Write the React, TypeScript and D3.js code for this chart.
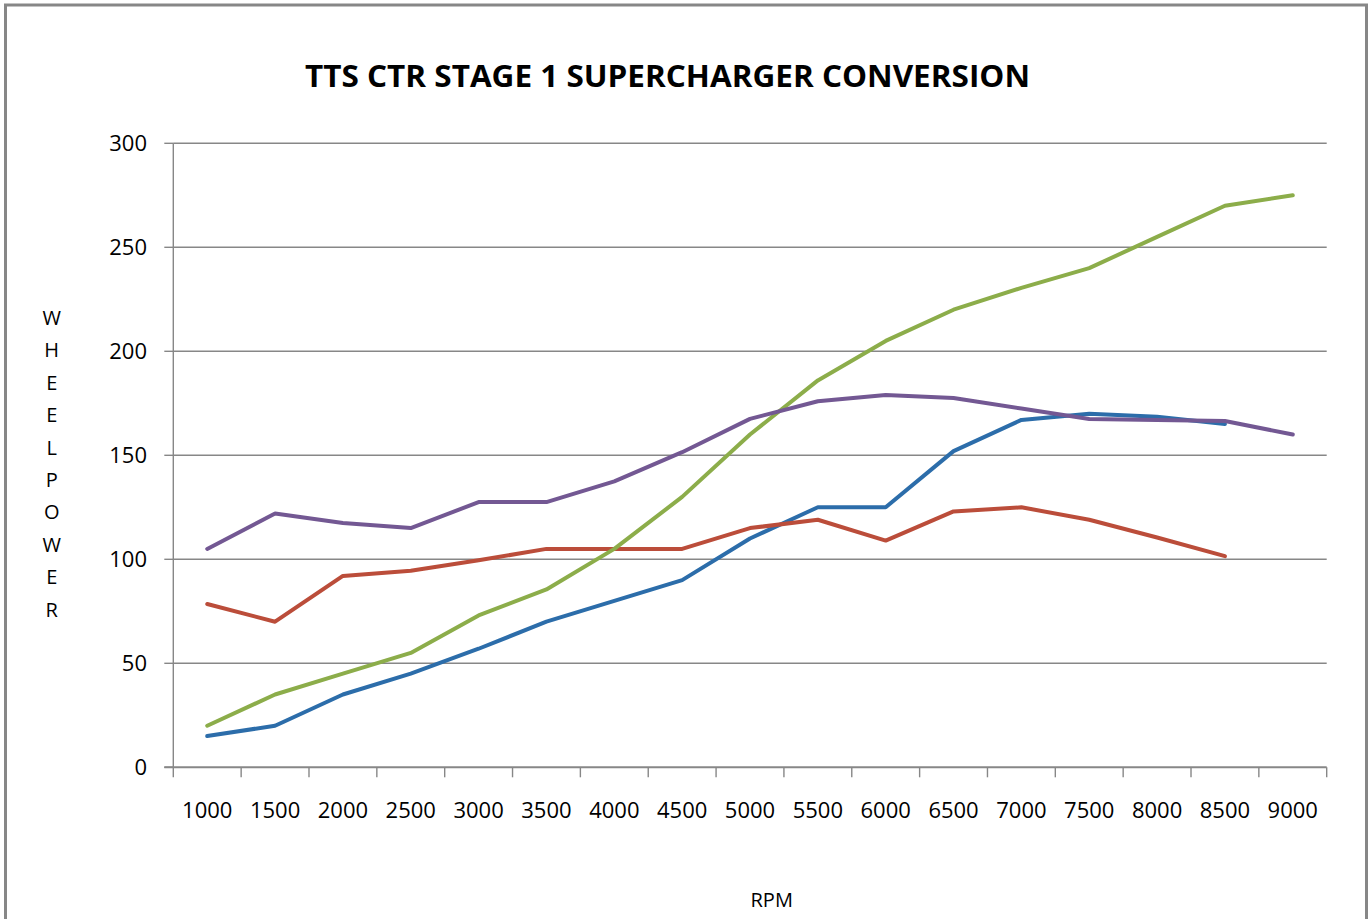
import React from "react";
import * as d3 from "d3";

const rpm = ["1000", "1500", "2000", "2500", "3000", "3500", "4000", "4500", "5000", "5500", "6000", "6500", "7000", "7500", "8000", "8500", "9000"];
const blueHp = [15, 20, 35, 45, 57, 70, 80, 90, 110, 125, 125, 152, 167, 170, 168.5, 165, null];
const redHp = [78.5, 70, 92, 94.5, 99.5, 105, 105, 105, 115, 119, 109, 123, 125, 119, 110.5, 101.5, null];
const greenHp = [20, 35, 45, 55, 73, 85.5, 105, 130, 160, 186, 205, 220, 230.5, 240, 255, 270, 275];
const purpleHp = [105, 122, 117.5, 115, 127.5, 127.5, 137.5, 151.5, 167.5, 176, 179, 177.5, 172.5, 167.5, 167, 166.5, 160];
const yTicks = [0, 50, 100, 150, 200, 250, 300];
const yTitle = ["W", "H", "E", "E", "L", "P", "O", "W", "E", "R"];

const series = [
  { values: blueHp, color: "#2C6DAA" },
  { values: redHp, color: "#BB4D3A" },
  { values: greenHp, color: "#8CAD4A" },
  { values: purpleHp, color: "#735893" },
];

const W = 1371;
const H = 919;
const left = 173.3;
const right = 1326.7;
const top = 143.3;
const bottom = 767.3;
const grey = "#878787";
const font = "'Open Sans', 'Noto Sans', sans-serif";

export default function App() {
  const x = d3.scaleBand<string>().domain(rpm).range([left, right]);
  const y = d3.scaleLinear().domain([0, 300]).range([bottom, top]);

  const line = d3
    .line<number | null>()
    .defined((d) => d != null)
    .x((_, i) => (x(rpm[i]) as number) + x.bandwidth() / 2)
    .y((d) => y(d as number));

  // category boundaries for tick marks
  const bounds = rpm.map((r) => x(r) as number).concat([right]);

  return (
    <svg
      width={W}
      height={H}
      style={{ position: "absolute", left: 0, top: 0, background: "#fff" }}
    >
      <rect x={5.5} y={5} width={1361} height={940} fill="#fff" stroke={grey} strokeWidth={3} />

      <text
        x={305}
        y={86.7}
        textLength={725}
        lengthAdjust="spacingAndGlyphs"
        fontFamily={font}
        fontWeight="bold"
        fontSize={30}
        fill="#000"
      >
        TTS CTR STAGE 1 SUPERCHARGER CONVERSION
      </text>

      {/* gridlines + y labels */}
      {yTicks.map((t) => (
        <g key={t}>
          {t > 0 && (
            <line x1={left} x2={right} y1={y(t)} y2={y(t)} stroke={grey} strokeWidth={1.4} />
          )}
          <line x1={left - 9} x2={left} y1={y(t)} y2={y(t)} stroke={grey} strokeWidth={1.4} />
          <text
            x={147}
            y={y(t)}
            dy="0.35em"
            textAnchor="end"
            fontFamily={font}
            fontSize={22}
            fill="#000"
          >
            {t}
          </text>
        </g>
      ))}

      {/* axes */}
      <line x1={left} x2={left} y1={top} y2={bottom} stroke={grey} strokeWidth={1.4} />
      <line x1={left - 9} x2={right} y1={bottom} y2={bottom} stroke={grey} strokeWidth={2} />
      {bounds.map((b, i) => (
        <line key={i} x1={b} x2={b} y1={bottom} y2={bottom + 10} stroke={grey} strokeWidth={1.4} />
      ))}
      {rpm.map((r) => (
        <text
          key={r}
          x={(x(r) as number) + x.bandwidth() / 2}
          y={818}
          textAnchor="middle"
          fontFamily={font}
          fontSize={22}
          fill="#000"
        >
          {r}
        </text>
      ))}

      {/* series */}
      {series.map((s, i) => (
        <path
          key={i}
          d={line(s.values) || ""}
          fill="none"
          stroke={s.color}
          strokeWidth={4}
          strokeLinejoin="round"
          strokeLinecap="round"
        />
      ))}

      {/* axis titles */}
      {yTitle.map((c, i) => (
        <text
          key={i}
          x={51.7}
          y={325 + i * 32.4}
          textAnchor="middle"
          fontFamily={font}
          fontSize={20}
          fill="#000"
        >
          {c}
        </text>
      ))}
      <text x={771.7} y={907.3} textAnchor="middle" fontFamily={font} fontSize={20} fill="#000">
        RPM
      </text>
    </svg>
  );
}
